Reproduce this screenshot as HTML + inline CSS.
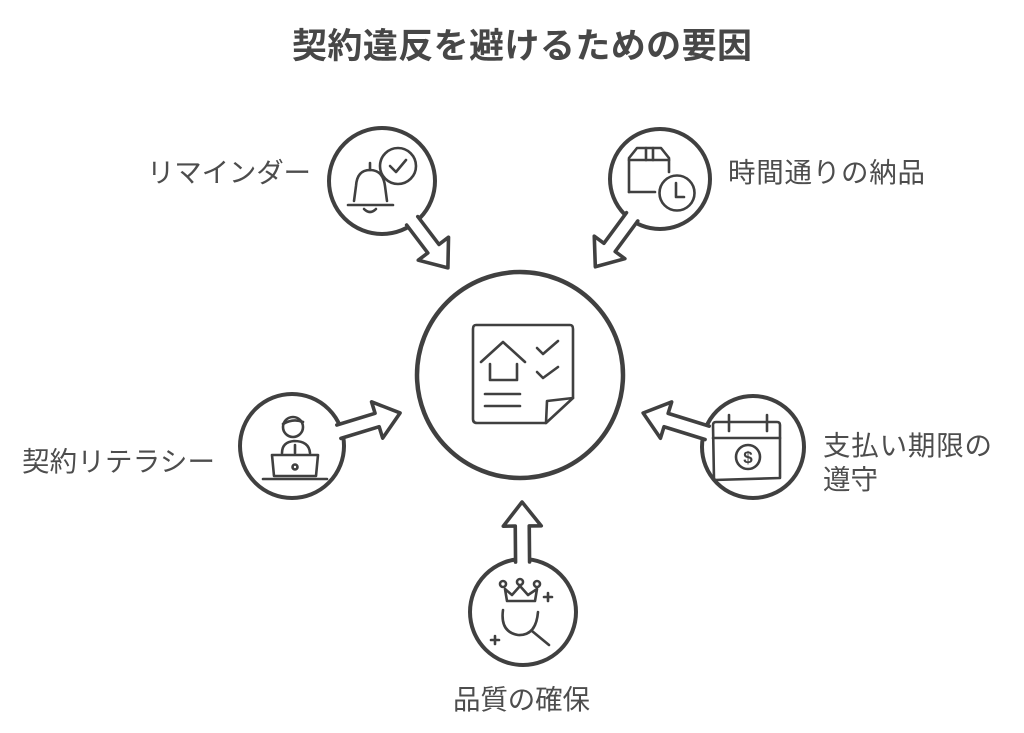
<!DOCTYPE html>
<html><head><meta charset="utf-8"><style>
html,body{margin:0;padding:0;background:#fff;}
svg{display:block;}
text{font-family:"Liberation Sans","Noto Sans CJK JP",sans-serif;}
</style></head><body>
<svg width="1024" height="733" viewBox="0 0 1024 733" xmlns="http://www.w3.org/2000/svg">
<rect width="1024" height="733" fill="#fff"/>
<text x="522" y="58" text-anchor="middle" font-size="35" font-weight="bold" fill="#474747" textLength="460">契約違反を避けるための要因</text>

<g fill="#fff" stroke="#404040" stroke-width="4" stroke-linejoin="round" stroke-linecap="round">
  <!-- center -->
  <circle cx="520" cy="375" r="103" stroke-width="4.5"/>

  <!-- top-left -->
  <circle cx="382" cy="181" r="53"/>
  <path transform="translate(382,181) rotate(52.8)" d="M50,-7 L85,-7 L85,-19 L109,0 L85,19 L85,7 L50,7" stroke-width="3.6"/>
  <!-- top-right -->
  <circle cx="660" cy="179" r="50"/>
  <path transform="translate(660,179) rotate(126.4)" d="M47,-7 L85,-7 L85,-19 L109,0 L85,19 L85,7 L47,7" stroke-width="3.6"/>
  <!-- left -->
  <circle cx="292" cy="446" r="52"/>
  <path transform="translate(292,446) rotate(-17)" d="M49,-7 L89,-7 L89,-19 L113,0 L89,19 L89,7 L49,7" stroke-width="3.6"/>
  <!-- right -->
  <circle cx="753" cy="447" r="51"/>
  <path transform="translate(753,447) rotate(197.2)" d="M48,-7 L91,-7 L91,-19 L115,0 L91,19 L91,7 L48,7" stroke-width="3.6"/>
  <!-- bottom -->
  <circle cx="523" cy="612" r="53"/>
  <path transform="translate(523,612) rotate(-90.5)" d="M50,-7 L86,-7 L86,-19 L110,0 L86,19 L86,7 L50,7" stroke-width="3.6"/>
</g>

<!-- icons -->
<g fill="none" stroke="#404040" stroke-width="2.6" stroke-linejoin="round" stroke-linecap="round">
  <!-- bell -->
  <path d="M354,201 L356,186 Q357,170 370,170 Q383,170 385,186 L387,201"/>
  <path d="M348,205 L393,205"/>
  <path d="M370,170 L370,163"/>
  <path d="M364,209 Q370,215 376,209"/>
  <circle cx="398" cy="166" r="18" fill="#fff"/>
  <path d="M390,166 L396,172 L406,160"/>

  <!-- box + clock -->
  <path d="M629,192 L629,158 L637,148 L661,148 L669,158 L669,172"/>
  <path d="M629,160 L669,160"/>
  <path d="M646,148 L646,160 M653,148 L653,160"/>
  <path d="M629,192 L655,192"/>
  <circle cx="677" cy="193" r="17.5" fill="#fff"/>
  <path d="M676,183 L676,197 L684,197"/>

  <!-- document -->
  <path d="M476,325 L570,325 Q573,325 573,329 L573,398 L546,423 L477,423 Q473,423 473,419 L473,329 Q473,325 476,325 Z"/>
  <path d="M573,398 L547,401 L546,423"/>
  <path d="M481,362 L503,342 L525,362"/>
  <path d="M490,364 L490,380 L517,380 L517,364"/>
  <path d="M537,348 L543,354 L558,341"/>
  <path d="M537,372 L543,378 L558,367"/>
  <path d="M485,394 L520,394 M485,406 L520,406"/>

  <!-- person + laptop -->
  <circle cx="293" cy="427" r="10"/>
  <path d="M283,424 Q293,418 303,422"/>
  <path d="M282,453 Q282,442 294,441 Q309,441 310,453"/>
  <path d="M295,445 L295,453"/>
  <path d="M272,455 L318,455 L316,476 L274,476 Z"/>
  <circle cx="295" cy="467" r="2.5"/>
  <path d="M263,479 L327,479"/>

  <!-- calendar -->
  <path d="M716,422 L777,422 Q780,422 780,425 L780,478 L714,480 L713,425 Q713,422 716,422 Z"/>
  <path d="M713,438 L780,438"/>
  <path d="M729,415 L729,431 M767,415 L767,431"/>
  <circle cx="748" cy="457" r="12"/>

  <!-- crown + magnifier -->
  <path d="M505,589 L507,601 L535,601 L537,589 L528,595 L520,586 L512,595 Z"/>
  <circle cx="503" cy="584" r="3"/>
  <circle cx="520" cy="582" r="3"/>
  <circle cx="537" cy="584" r="3"/>
  <path d="M503,610 Q500,632 518,635 Q536,636 538,612"/>
  <path d="M532,631 L549,645"/>
  <path d="M544,597 L552,597 M548,593 L548,601"/>
  <path d="M491,640 L499,640 M495,636 L495,644"/>
</g>
<text x="748" y="463" text-anchor="middle" font-size="17" font-weight="bold" fill="#404040">$</text>

<g fill="#4d4d4d" font-size="27.5">
  <text x="147" y="182" textLength="164">リマインダー</text>
  <text x="728" y="182" textLength="197">時間通りの納品</text>
  <text x="22" y="471" textLength="193">契約リテラシー</text>
  <text x="823" y="455" textLength="169">支払い期限の</text>
  <text x="823" y="489">遵守</text>
  <text x="453" y="709" textLength="137">品質の確保</text>
</g>
</svg>
</body></html>
